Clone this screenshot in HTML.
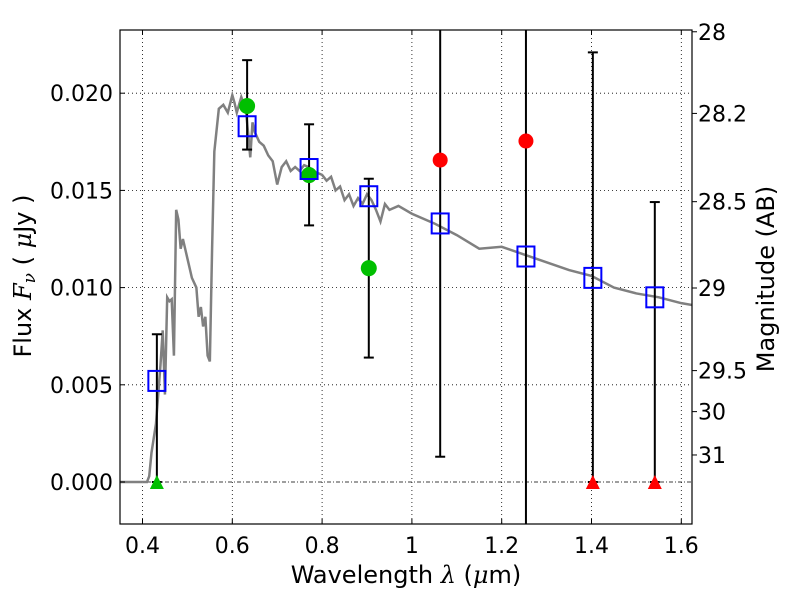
<!DOCTYPE html>
<html><head><meta charset="utf-8"><style>
html,body{margin:0;padding:0;background:#fff;width:800px;height:600px;overflow:hidden;position:relative;}
svg{display:block;position:absolute;left:0;top:0;font-family:"DejaVu Sans","Liberation Sans",sans-serif;}
</style></head><body>
<svg id="chart" width="800" height="600" viewBox="0 0 800 600" xmlns="http://www.w3.org/2000/svg">
<rect x="0" y="0" width="800" height="600" fill="#fff"/>
<defs><clipPath id="clip"><rect x="120" y="30" width="572" height="494"/></clipPath></defs>
<g id="grid"></g><g id="plot"></g><g id="axes"></g>
<text x="406" y="583" font-size="24" text-anchor="middle">Wavelength  <tspan font-family="DejaVu Serif, serif" font-style="italic">λ</tspan> (<tspan font-family="DejaVu Serif, serif" font-style="italic">μ</tspan>m)</text>
<text transform="translate(31,276) rotate(-90)" font-size="24" text-anchor="middle">Flux  <tspan font-family="DejaVu Serif, serif" font-style="italic">F<tspan font-size="17" dy="4">ν</tspan></tspan><tspan dy="-4">  ( </tspan><tspan font-family="DejaVu Serif, serif" font-style="italic">μ</tspan>Jy )</text>
<text transform="translate(774,279) rotate(-90)" font-size="24" text-anchor="middle">Magnitude (AB)</text>
</svg>
<script>
const xTicks=[0.4,0.6,0.8,1.0,1.2,1.4,1.6];
const xTickLabels=["0.4","0.6","0.8","1","1.2","1.4","1.6"];
const yTicks=[0,0.005,0.01,0.015,0.02];
const yTickLabels=["0.000","0.005","0.010","0.015","0.020"];
const magTickFlux=[0.02316,0.01896,0.01442,0.00998,0.00573,0.00362,0.00139];
const magTickLabels=["28","28.2","28.5","29","29.5","30","31"];
const modelWave=[0.35,0.41,0.415,0.42,0.43,0.44,0.445,0.45,0.455,0.46,0.465,0.47,0.475,0.48,0.485,0.49,0.5,0.51,0.52,0.525,0.53,0.535,0.54,0.545,0.55,0.555,0.56,0.57,0.58,0.59,0.6,0.605,0.61,0.62,0.63,0.635,0.64,0.645,0.65,0.66,0.67,0.68,0.69,0.7,0.71,0.72,0.73,0.74,0.75,0.76,0.77,0.78,0.8,0.81,0.82,0.83,0.84,0.85,0.86,0.87,0.88,0.89,0.9,0.91,0.92,0.93,0.94,0.95,0.97,1.0,1.05,1.1,1.15,1.2,1.25,1.3,1.35,1.4,1.45,1.5,1.55,1.6,1.625];
const modelFlux=[0,0,0.0003,0.0015,0.003,0.006,0.0078,0.0045,0.0095,0.0093,0.0094,0.0065,0.014,0.0135,0.012,0.0125,0.0115,0.0105,0.01,0.0085,0.009,0.008,0.0085,0.0065,0.0062,0.012,0.017,0.0192,0.0194,0.019,0.0199,0.0195,0.019,0.0198,0.0192,0.018,0.0167,0.0185,0.018,0.0175,0.0173,0.0168,0.0165,0.0153,0.0162,0.0165,0.016,0.0162,0.016,0.0163,0.0162,0.016,0.0158,0.0155,0.0157,0.015,0.0152,0.0145,0.0148,0.0142,0.0146,0.0143,0.0148,0.0145,0.014,0.0134,0.0143,0.014,0.0142,0.0138,0.0133,0.0127,0.012,0.0121,0.0117,0.0113,0.0109,0.0106,0.01,0.0097,0.0095,0.0092,0.0091];
const bandWave=[0.432,0.633,0.771,0.904,1.063,1.254,1.403,1.541];
const modelBand=[0.0052,0.0183,0.0161,0.0147,0.0133,0.0116,0.0105,0.0095];
const errLow=[0,0.0171,0.0132,0.0064,0.0013,-0.01,0,0];
const errHigh=[0.0076,0.0217,0.0184,0.0156,0.0253,0.03,0.0221,0.0144];
const greenWave=[0.633,0.771,0.904];
const greenFlux=[0.01934,0.01579,0.0110];
const redWave=[1.063,1.254];
const redFlux=[0.01656,0.01754];
const greenTriWave=[0.432];
const redTriWave=[1.403,1.541];

const L=120,R=692,T=30,B=524;
const X=v=>142.5+(v-0.4)*449;
const Y=v=>482-v*19440;
const NS="http://www.w3.org/2000/svg";
function mk(parent,tag,attrs){const e=document.createElementNS(NS,tag);for(const k in attrs)e.setAttribute(k,attrs[k]);document.getElementById(parent).appendChild(e);return e;}

xTicks.forEach(t=>{const g=mk('grid','line',{x1:X(t),x2:X(t),y1:T,y2:B,stroke:'#000','stroke-width':0.8,'stroke-dasharray':'1,3'});

});
yTicks.forEach(t=>{if(t===0)return;const g=mk('grid','line',{x1:L,x2:R,y1:Y(t),y2:Y(t),stroke:'#000','stroke-width':0.8,'stroke-dasharray':'1,3'});

});
const zl=mk('grid','line',{x1:L,x2:R,y1:Y(0),y2:Y(0),stroke:'#000','stroke-width':0.8,'stroke-dasharray':'4,2,1,2'});



const pl=mk('plot','polyline',{points:modelWave.map((w,i)=>X(w)+','+Y(modelFlux[i])).join(' '),fill:'none',stroke:'#808080','stroke-width':2.5,'clip-path':'url(#clip)'});



bandWave.forEach((w,i)=>{
 const x=X(w);
 const l=mk('plot','line',{x1:x,x2:x,y1:Y(errLow[i]),y2:Y(errHigh[i]),stroke:'#000','stroke-width':2,'clip-path':'url(#clip)'});
 
 
 [errLow[i],errHigh[i]].forEach(v=>{const c=mk('plot','line',{x1:x-5,x2:x+5,y1:Y(v),y2:Y(v),stroke:'#000','stroke-width':2,'clip-path':'url(#clip)'});
 
 });
});
greenWave.forEach((w,i)=>{const c=mk('plot','circle',{cx:X(w),cy:Y(greenFlux[i]),r:8,fill:'#00bf00'});

});
redWave.forEach((w,i)=>{const c=mk('plot','circle',{cx:X(w),cy:Y(redFlux[i]),r:7.5,fill:'#ff0000'});

});
bandWave.forEach((w,i)=>{const r=mk('plot','rect',{x:X(w)-8.5,y:Y(modelBand[i])-10,width:17,height:20,fill:'none',stroke:'#0000ff','stroke-width':2});

});
function tri(w,col,name){const x=X(w),y=Y(0);const p=mk('plot','polygon',{points:`${x-7},${y+7} ${x+7},${y+7} ${x},${y-7}`,fill:col});

}
greenTriWave.forEach(w=>tri(w,'#00bf00','green-limit-marker'));
redTriWave.forEach(w=>tri(w,'#ff0000','red-limit-marker'));

const fr=mk('axes','rect',{x:L,y:T,width:R-L,height:B-T,fill:'none',stroke:'#000','stroke-width':1.2});


xTicks.forEach((t,i)=>{const x=X(t);
 mk('axes','line',{x1:x,x2:x,y1:B,y2:B-5,stroke:'#000'});
 mk('axes','line',{x1:x,x2:x,y1:T,y2:T+5,stroke:'#000'});
 const tx=mk('axes','text',{x:x,y:B+29,'font-size':22,'text-anchor':'middle'});tx.textContent=xTickLabels[i];
 
 });
yTicks.forEach((t,i)=>{const y=Y(t);
 mk('axes','line',{x1:L,x2:L+5,y1:y,y2:y,stroke:'#000'});
 const tx=mk('axes','text',{x:113,y:y+8,'font-size':22,'text-anchor':'end'});tx.textContent=yTickLabels[i];
 
 });
magTickFlux.forEach((f,i)=>{const y=Y(f);
 mk('axes','line',{x1:R,x2:R+5,y1:y,y2:y,stroke:'#000'});
 const tx=mk('axes','text',{x:698,y:y+8,'font-size':22,'text-anchor':'start'});tx.textContent=magTickLabels[i];
 
 });
</script>
</body></html>
